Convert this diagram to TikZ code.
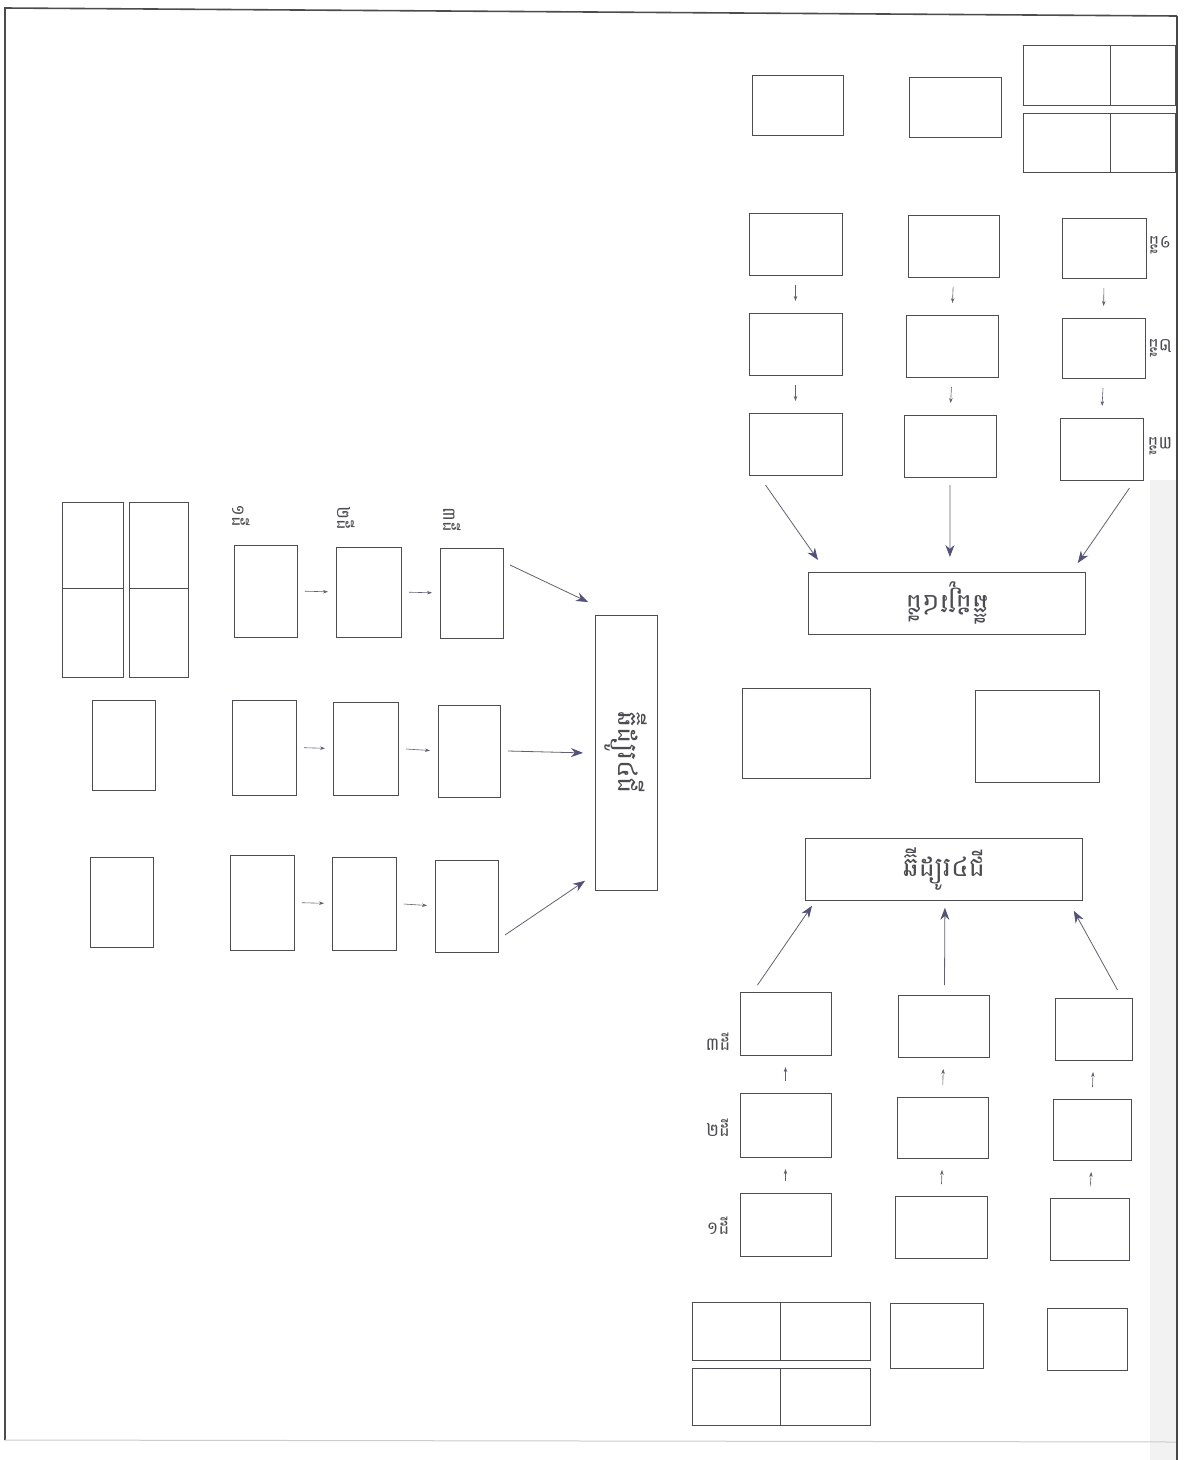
\documentclass[tikz,border=0pt]{standalone}
\usepackage{fontspec}
\newfontfamily\khmer[Script=Khmer]{Battambang}
\usetikzlibrary{arrows.meta}
\definecolor{boxline}{rgb}{0.30,0.30,0.32}
\definecolor{arrowhead}{rgb}{0.32,0.32,0.48}
\definecolor{arrowline}{rgb}{0.38,0.38,0.45}
\newcommand{\bx}[5]{\node[box, anchor=north west, minimum width={(#4-#2)*1pt}, minimum height={(#5-#3)*1pt}] (#1) at (#2,#3) {};}
\begin{document}
\begin{tikzpicture}[x=1pt,y=-1pt,
  box/.style={draw=boxline, line width=0.8pt, inner sep=0pt, outer sep=0pt},
  titlebox/.style={draw=boxline, line width=0.8pt, inner sep=0pt},
  lbl/.style={font=\khmer\fontsize{18}{21}\selectfont, text=boxline, inner sep=1pt},
  ttl/.style={font=\khmer\fontsize{27}{31}\selectfont, text=boxline, inner sep=1pt},
  bigarrow/.style={draw=arrowline, line width=0.8pt, -{Stealth[length=12pt,width=9pt,color=arrowhead,fill=arrowhead]}},
  smallarrow/.style={draw=arrowline, line width=0.6pt, -{Stealth[length=5pt,width=3.5pt]}}]
\useasboundingbox (0,0) rectangle (1184,1460);
\fill[white] (0,0) rectangle (1184,1460);
% paper edge
\fill[gray!10] (1150,480) rectangle (1176,1460);
\coordinate (fTL) at (5,8);
\coordinate (fTR) at (1177,16);
\coordinate (fBL) at (5,1440);
\coordinate (fBR) at (1177,1442);
\draw[gray!60!black, line width=1.6pt] (fBL) -- (fTL) -- (fTR);
\draw[gray!40, line width=1pt] (fBL) -- (fBR);
\draw[gray!55!black, line width=2.5pt] (fTR) -- (1177,1460);

% ================= top right (rotated 180) =================
\bx{TA}{752}{75}{843}{135}
\bx{TB}{909}{77}{1001}{137}
\bx{TGa}{1023}{45}{1110}{105}
\bx{TGb}{1110}{45}{1175}{105}
\bx{TGc}{1023}{113}{1110}{172}
\bx{TGd}{1110}{113}{1175}{172}

\bx{T11}{749}{213}{842}{275}
\bx{T12}{749}{313}{842}{375}
\bx{T13}{749}{413}{842}{475}
\bx{T21}{908}{215}{999}{277}
\bx{T22}{906}{315}{998}{377}
\bx{T23}{904}{415}{996}{477}
\bx{T31}{1062}{218}{1146}{278}
\bx{T32}{1062}{318}{1145}{378}
\bx{T33}{1060}{418}{1143}{480}

\foreach \c in {1,2,3}{
  \draw[smallarrow, shorten <=10pt, shorten >=12pt] (T\c1.south) -- (T\c2.north);
  \draw[smallarrow, shorten <=10pt, shorten >=12pt] (T\c2.south) -- (T\c3.north);
}
\node[lbl, rotate=180] (tl1) at (1160,245) {១ដី};
\node[lbl, rotate=180] (tl2) at (1160,348) {២ដី};
\node[lbl, rotate=180] (tl3) at (1160,446) {៣ដី};

\node[titlebox, anchor=north west, minimum width=277pt, minimum height=62pt] (TL) at (808,572) {};
\node[ttl, rotate=180] (TLt) at (TL.center) {ឆ៊ីដ្យូរ៤ជី};
\draw[bigarrow] ([xshift=-30pt,yshift=-10pt]T13.south) -- ([xshift=10pt,yshift=12pt]TL.north west);
\draw[bigarrow] ([xshift=0pt,yshift=-8pt]T23.south) -- ([xshift=3pt,yshift=15pt]TL.north);
\draw[bigarrow] ([xshift=28pt,yshift=-8pt]T33.south) -- ([xshift=-8pt,yshift=9pt]TL.north east);

% ================= middle right =================
\bx{M1}{742}{688}{870}{778}
\bx{M2}{975}{690}{1099}{782}

% ================= bottom right (upright) =================
\node[titlebox, anchor=north west, minimum width=277pt, minimum height=62pt] (BL) at (805,838) {};
\node[ttl] (BLt) at (BL.center) {ឆ៊ីដ្យូរ៤ជី};

\bx{B13}{740}{992}{831}{1055}
\bx{B12}{740}{1093}{831}{1157}
\bx{B11}{740}{1193}{831}{1256}
\bx{B23}{898}{995}{989}{1057}
\bx{B22}{897}{1097}{988}{1158}
\bx{B21}{895}{1196}{987}{1258}
\bx{B33}{1055}{998}{1132}{1060}
\bx{B32}{1053}{1099}{1131}{1160}
\bx{B31}{1050}{1198}{1129}{1260}

\foreach \c in {1,2,3}{
  \draw[smallarrow, shorten <=12pt, shorten >=12pt] (B\c1.north) -- (B\c2.south);
  \draw[smallarrow, shorten <=12pt, shorten >=12pt] (B\c2.north) -- (B\c3.south);
}
\node[lbl] (bl3) at (718,1042) {៣ដី};
\node[lbl] (bl2) at (718,1128) {២ដី};
\node[lbl] (bl1) at (718,1226) {១ដី};

\draw[bigarrow] ([xshift=-28pt,yshift=7pt]B13.north) -- ([xshift=7pt,yshift=-5pt]BL.south west);
\draw[bigarrow] ([xshift=1pt,yshift=10pt]B23.north) -- ([xshift=1pt,yshift=-7pt]BL.south);
\draw[bigarrow] ([xshift=24pt,yshift=8pt]B33.north) -- ([xshift=-9pt,yshift=-10pt]BL.south east);

\bx{BGa}{692}{1302}{780}{1360}
\bx{BGb}{780}{1302}{870}{1360}
\bx{BGc}{692}{1368}{780}{1425}
\bx{BGd}{780}{1368}{870}{1425}
\bx{BA}{890}{1303}{983}{1368}
\bx{BB}{1047}{1308}{1127}{1370}

% ================= left (rotated clockwise) =================
\bx{LGa}{62}{502}{123}{588}
\bx{LGb}{62}{588}{123}{677}
\bx{LGc}{129}{502}{188}{588}
\bx{LGd}{129}{588}{188}{677}
\bx{LA}{92}{700}{155}{790}
\bx{LB}{90}{857}{153}{947}

\bx{L11}{234}{545}{297}{637}
\bx{L21}{336}{547}{401}{637}
\bx{L31}{440}{548}{503}{638}
\bx{L12}{232}{700}{296}{795}
\bx{L22}{333}{702}{398}{795}
\bx{L32}{438}{705}{500}{797}
\bx{L13}{230}{855}{294}{950}
\bx{L23}{332}{857}{396}{950}
\bx{L33}{435}{860}{498}{952}

\foreach \r in {1,2,3}{
  \draw[smallarrow, shorten <=8pt, shorten >=8pt] (L1\r.east) -- (L2\r.west);
  \draw[smallarrow, shorten <=8pt, shorten >=8pt] (L2\r.east) -- (L3\r.west);
}
\node[lbl, rotate=-90] (ll1) at (241,516) {១ដី};
\node[lbl, rotate=-90] (ll2) at (346,518) {២ដី};
\node[lbl, rotate=-90] (ll3) at (452,520) {៣ដី};

\node[titlebox, anchor=north west, minimum width=62pt, minimum height=275pt] (LL) at (595,615) {};
\node[ttl, rotate=-90] (LLt) at (LL.center) {ឆ៊ីដ្យូរ៤ជី};

\draw[bigarrow] ([xshift=7pt,yshift=-17pt]L31.north east) -- ([xshift=-7pt,yshift=13pt]LL.north west);
\draw[bigarrow] ([xshift=8pt]L32.east) -- ([xshift=-12pt]LL.west);
\draw[bigarrow] ([xshift=7pt,yshift=17pt]L33.south east) -- ([xshift=-10pt,yshift=10pt]LL.south west);
\end{tikzpicture}
\end{document}
